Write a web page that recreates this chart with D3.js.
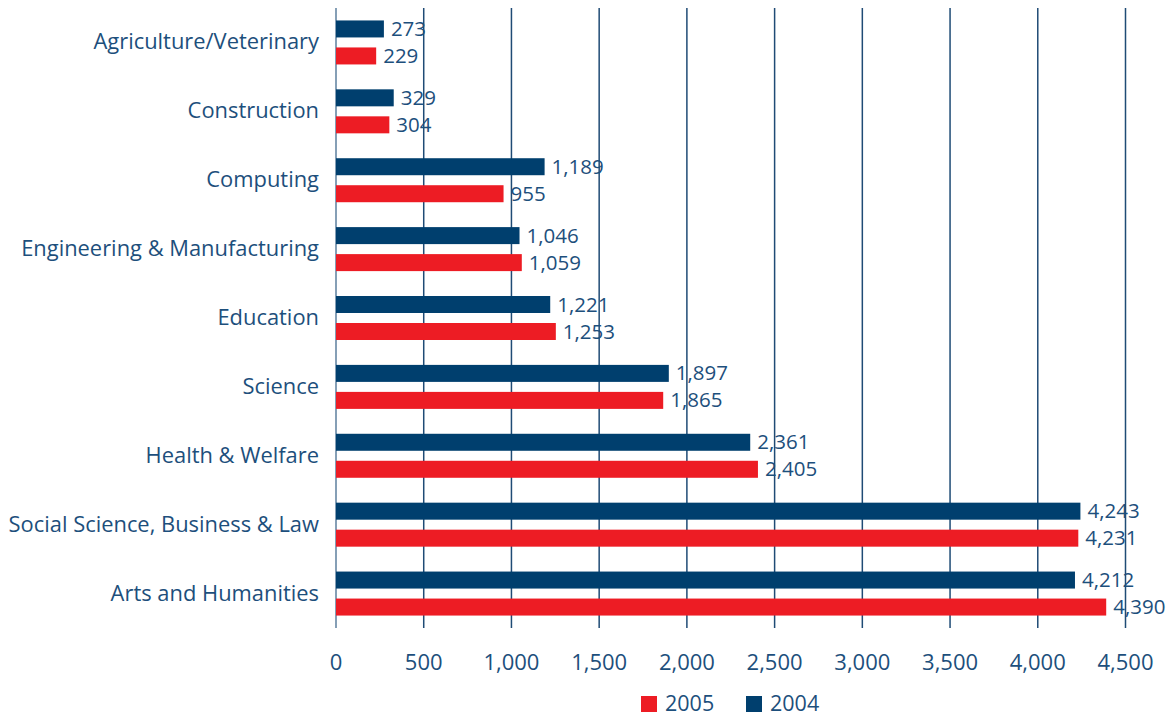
<!DOCTYPE html>
<html>
<head>
<meta charset="utf-8">
<script src="https://cdn.jsdelivr.net/npm/d3@7"></script>
<style>
  body { margin: 0; background: #fff; }
  svg text { font-family: "Open Sans", "Noto Sans", sans-serif; fill: #1d4f7c; }
</style>
</head>
<body>
<div id="chart"></div>
<script>
// categories top to bottom
var categories = ["Agriculture/Veterinary", "Construction", "Computing", "Engineering & Manufacturing",
  "Education", "Science", "Health & Welfare", "Social Science, Business & Law", "Arts and Humanities"];
var values2004 = [273, 329, 1189, 1046, 1221, 1897, 2361, 4243, 4212];
var values2005 = [229, 304, 955, 1059, 1253, 1865, 2405, 4231, 4390];
var xTicks = [0, 500, 1000, 1500, 2000, 2500, 3000, 3500, 4000, 4500];
var seriesNames = ["2005", "2004"];

var width = 1175, height = 717;
var navy = "#003f6e", red = "#ed1c24";

var svg = d3.select("#chart").append("svg")
  .attr("width", width)
  .attr("height", height);

var x = d3.scaleLinear().domain([0, 4500]).range([336, 1125.5]);
var y = d3.scaleBand().domain(categories).range([8, 628]);

// grid lines
svg.append("g").selectAll("line")
  .data(xTicks)
  .enter().append("line")
  .attr("x1", d => x(d)).attr("x2", d => x(d))
  .attr("y1", 8).attr("y2", 628)
  .attr("stroke", d => d === 0 ? "#5d7f9e" : "#1f4b75")
  .attr("stroke-width", 1.5);

// bars
var rows = svg.append("g").selectAll("g")
  .data(categories.map((c, i) => ({name: c, v04: values2004[i], v05: values2005[i]})))
  .enter().append("g")
  .attr("transform", d => "translate(0," + (y(d.name) + y.bandwidth() / 2) + ")");

rows.append("rect")
  .attr("x", x(0)).attr("y", -22)
  .attr("width", d => x(d.v04) - x(0)).attr("height", 17)
  .attr("fill", navy);

rows.append("rect")
  .attr("x", x(0)).attr("y", 5)
  .attr("width", d => x(d.v05) - x(0)).attr("height", 17)
  .attr("fill", red);

var fmt = d3.format(",");
rows.append("text")
  .attr("x", d => x(d.v04) + 7).attr("y", -6.5)
  .style("font-size", "20.5px")
  .text(d => fmt(d.v04));

rows.append("text")
  .attr("x", d => x(d.v05) + 7).attr("y", 20.5)
  .style("font-size", "20.5px")
  .text(d => fmt(d.v05));

// category labels
rows.append("text")
  .attr("x", 319).attr("y", 7)
  .attr("text-anchor", "end")
  .style("font-size", "21.9px")
  .text(d => d.name);

// x tick labels
svg.append("g").selectAll("text")
  .data(xTicks)
  .enter().append("text")
  .attr("x", d => x(d)).attr("y", 670)
  .attr("text-anchor", "middle")
  .style("font-size", "22px")
  .text(d => fmt(d));

// legend
var legend = svg.append("g").selectAll("g")
  .data(seriesNames)
  .enter().append("g")
  .attr("transform", (d, i) => "translate(" + (641 + i * 105) + ",696)");

legend.append("rect")
  .attr("width", 16).attr("height", 16)
  .attr("fill", d => d === "2005" ? red : navy);

legend.append("text")
  .attr("x", 24).attr("y", 15)
  .style("font-size", "21.5px")
  .text(d => d);
</script>
</body>
</html>
